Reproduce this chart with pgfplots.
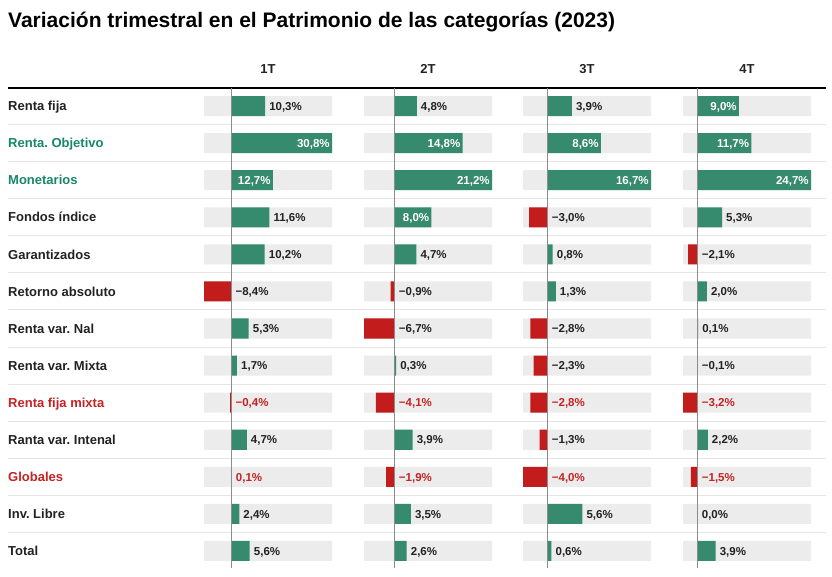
\documentclass[border=0pt]{standalone}
\usepackage{fontspec}
\setmainfont{Liberation Sans}
\usepackage{pgfplots}
\usepackage{pgfplotstable}
\pgfplotsset{compat=1.18}
\frenchspacing

\definecolor{pos}{HTML}{368A6E}
\definecolor{neg}{HTML}{C21C1C}
\definecolor{bg}{HTML}{ECECEC}
\definecolor{sep}{HTML}{E6E6E6}
\definecolor{tgreen}{HTML}{17876A}
\definecolor{tred}{HTML}{C62222}
\definecolor{txt}{HTML}{222222}

% row val lab t   (t: 0 = label beside the bar, 1 = beside in red, 2 = inside in white)
\pgfplotstableread{
row val lab t
0 10.3 10,3 0
1 30.8 30,8 2
2 12.7 12,7 2
3 11.6 11,6 0
4 10.2 10,2 0
5 -8.4 −8,4 0
6 5.3 5,3 0
7 1.7 1,7 0
8 -0.4 −0,4 1
9 4.7 4,7 0
10 0.1 0,1 1
11 2.4 2,4 0
12 5.6 5,6 0
}\colA
\pgfplotstableread{
row val lab t
0 4.8 4,8 0
1 14.8 14,8 2
2 21.2 21,2 2
3 8.0 8,0 2
4 4.7 4,7 0
5 -0.9 −0,9 0
6 -6.7 −6,7 0
7 0.3 0,3 0
8 -4.1 −4,1 1
9 3.9 3,9 0
10 -1.9 −1,9 1
11 3.5 3,5 0
12 2.6 2,6 0
}\colB
\pgfplotstableread{
row val lab t
0 3.9 3,9 0
1 8.6 8,6 2
2 16.7 16,7 2
3 -3.0 −3,0 0
4 0.8 0,8 0
5 1.3 1,3 0
6 -2.8 −2,8 0
7 -2.3 −2,3 0
8 -2.8 −2,8 1
9 -1.3 −1,3 0
10 -4.0 −4,0 1
11 5.6 5,6 0
12 0.6 0,6 0
}\colC
\pgfplotstableread{
row val lab t
0 9.0 9,0 2
1 11.7 11,7 2
2 24.7 24,7 2
3 5.3 5,3 0
4 -2.1 −2,1 0
5 2.0 2,0 0
6 0.1 0,1 0
7 -0.1 −0,1 0
8 -3.2 −3,2 1
9 2.2 2,2 0
10 -1.5 −1,5 1
11 0.0 0,0 0
12 3.9 3,9 0
}\colD

% value label: white inside the bar (2), red (1) or dark (0) beside it
\newcommand\labtext{%
  \ifdim\ltype pt>1.5pt \llap{\color{white}\pgfplotspointmeta\%\hspace{7pt}}%
  \else\ifdim\ltype pt>0.5pt \color{tred}\fi\pgfplotspointmeta\%\fi}

\pgfplotsset{
  rows/.style={
    anchor=south west, scale only axis, height=482pt,
    ymin=-0.5, ymax=12.5, y dir=reverse, clip=false,
  },
  col/.style={rows, width=128pt, hide axis},
  bgbar/.style={xbar, bar width=0.54, bar shift=0pt, fill=bg, draw=none, forget plot},
  databar/.style={xbar, bar width=0.54, bar shift=0pt, draw=none, forget plot},
  lbl/.style={only marks, mark=*, mark size=0pt, mark options={draw=none, fill=none},
    forget plot, point meta=explicit symbolic,
    visualization depends on={\thisrow{t} \as \ltype},
    nodes near coords={\labtext},
    nodes near coords style={anchor=base west, inner sep=0pt, xshift=4pt, yshift=-4.2pt,
      text=txt, font=\fontsize{11.5}{11.5}\selectfont\bfseries}},
}

\newcommand\quarter[5]{%
\begin{axis}[col, at={(#1pt,-569.5pt)}, xmin=#2, xmax=#3]
\addplot[bgbar] table[x expr=#2, y=row]{#4};
\addplot[bgbar] table[x expr=#3, y=row]{#4};
\addplot[databar, fill=pos, restrict x to domain=0:1000] table[x=val, y=row]{#4};
\addplot[databar, fill=neg, restrict x to domain=-1000:0] table[x=val, y=row]{#4};
\draw[color=gray!90, line width=1.1pt] (axis cs:0,-0.5) -- (axis cs:0,12.45);
\addplot[lbl] table[x expr={max(\thisrow{val},0)}, y=row, meta=lab]{#4};
\node[font=\fontsize{13}{13}\selectfont\bfseries, text=txt, anchor=base, yshift=14pt]
  at (rel axis cs:0.5,1) {#5};
\end{axis}}

\begin{document}
\begin{tikzpicture}
\useasboundingbox (0,0) rectangle (832pt,-577pt);
\node[anchor=base west, inner sep=0pt, font=\fontsize{21}{21}\selectfont\bfseries, text=black]
  at (8pt,-27.5pt) {Variación trimestral en el Patrimonio de las categorías (2023)};

% frame: row names, separators and the heavy rule under the header
\begin{axis}[rows, at={(8pt,-569.5pt)}, width=818pt,
  xmin=0, xmax=1, axis line style={draw=none}, xtick=\empty,
  major tick length=0pt,
  ytick={0,...,12},
  yticklabels={Renta fija, \textcolor{tgreen}{Renta. Objetivo}, \textcolor{tgreen}{Monetarios},
    Fondos índice, Garantizados, Retorno absoluto, Renta var. Nal, Renta var. Mixta,
    \textcolor{tred}{Renta fija mixta}, Ranta var. Intenal, \textcolor{tred}{Globales},
    Inv. Libre, Total},
  yticklabel style={anchor=base west, inner xsep=0pt, inner ysep=0pt, yshift=-4.7pt,
    text=txt, font=\fontsize{13}{13}\selectfont\bfseries},
  extra y ticks={0.5,1.5,...,11.5}, extra y tick labels={},
  extra y tick style={grid=major},
  major grid style={color=sep, line width=1pt},
]
\draw[black, line width=2pt] (rel axis cs:0,1) -- (rel axis cs:1,1);
\end{axis}

\quarter{204}{-8.4}{30.8}{\colA}{1T}
\quarter{364}{-6.7}{21.2}{\colB}{2T}
\quarter{523}{-4.0}{16.7}{\colC}{3T}
\quarter{683}{-3.2}{24.7}{\colD}{4T}
\end{tikzpicture}
\end{document}
